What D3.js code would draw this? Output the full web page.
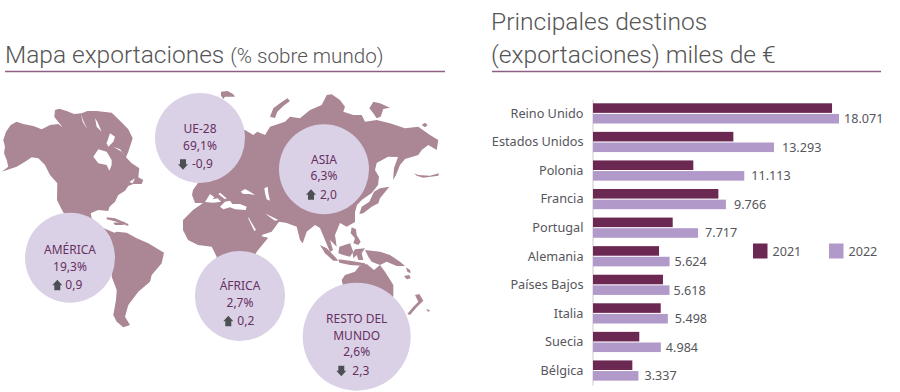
<!DOCTYPE html>
<html lang="es">
<head>
<meta charset="utf-8">
<title>Exportaciones</title>
<script src="https://d3js.org/d3.v7.min.js"></script>
<style>
  html, body { margin: 0; background: #fff; }
  svg { display: block; }
  .title { font-family: Roboto, sans-serif; font-weight: 300; fill: #555; }
  .soft { font-family: "Noto Sans", sans-serif; font-size: 12px; }
  .num { font-family: "Noto Sans", sans-serif; font-size: 12.6px; }
  .cat-axis .domain { stroke: #d4d4d4; stroke-width: 1.2; }
  .cat-axis text { font-family: "Noto Sans", sans-serif; font-size: 12.7px; fill: #56565c; }
</style>
</head>
<body>
<svg id="chart" width="900" height="392"></svg>
<script>
// bar chart data
const countries = ["Reino Unido", "Estados Unidos", "Polonia", "Francia", "Portugal", "Alemania", "Países Bajos", "Italia", "Suecia", "Bélgica"];
const exports2021 = [17560, 10310, 7370, 9210, 5855, 4850, 5140, 4975, 3400, 2890];
const exports2022 = [18071, 13293, 11113, 9766, 7717, 5624, 5618, 5498, 4984, 3337];
const years = ["2021", "2022"];

// map bubbles data
const regionNames = [["UE-28"], ["ASIA"], ["AMÉRICA"], ["ÁFRICA"], ["RESTO DEL", "MUNDO"]];
const regionShares = [69.1, 6.3, 19.3, 2.7, 2.6];
const regionChanges = [-0.9, 2.0, 0.9, 0.2, 2.3];
const regionArrows = ["down", "up", "up", "up", "down"];

const colorDark = "#6b2852";
const colorLight = "#b199c9";
const colorLand = "#ab8796";
const colorBubble = "#dbd1e7";
const colorBubbleText = "#66305f";
const colorArrow = "#4c4f53";

const locale = d3.formatLocale({ decimal: ",", thousands: ".", grouping: [3], currency: ["", "€"], minus: "-" });
const fmtValue = locale.format(",d");
const fmtOne = locale.format(".1f");

const svg = d3.select("#chart");

// ---- titles
const rule = "#8d5f84";
svg.append("text").attr("class", "title").attr("x", 5).attr("y", 63)
  .style("font-size", "24.5px").text("Mapa exportaciones ")
  .append("tspan").style("font-size", "20.6px").text("(% sobre mundo)");
svg.append("text").attr("class", "title").attr("x", 491).attr("y", 30)
  .style("font-size", "24.6px").text("Principales destinos");
svg.append("text").attr("class", "title").attr("x", 491).attr("y", 63)
  .style("font-size", "24.6px").text("(exportaciones) miles de €");
svg.append("line").attr("x1", 5).attr("x2", 445).attr("y1", 71.5).attr("y2", 71.5)
  .attr("stroke", rule).attr("stroke-width", 1.4);
svg.append("line").attr("x1", 492).attr("x2", 881).attr("y1", 71.5).attr("y2", 71.5)
  .attr("stroke", rule).attr("stroke-width", 1.4);

// ---- map: outlines, in px
const landPx = [
  // north america
  [1.7,171.7, 8.3,166.7, 6.7,160, 4,153.3, 5,146.7, 3.3,140, 6,131.7, 10.7,125, 16.7,121.7, 23.3,124, 33.3,126, 41.7,129.3, 50,125, 58.3,124, 62.7,127.3, 57.3,120.7, 54.3,116.7, 55,110, 59.3,108.7, 66.7,111, 74,114, 81.7,113.3, 87.3,111, 96.7,111, 111.7,112.7, 120,120.7, 128.3,129.3, 132.7,138.3, 128.3,151.7, 126,157.3, 131.7,163.3, 139.3,168.3, 138.3,177.3, 143.3,180, 141.7,184, 133.3,184, 128.3,186, 125,190.7, 118.3,195, 115,201.7, 109.3,207, 108.3,211, 98.3,210, 90.7,213.3, 91.7,218.3, 98.3,224, 103.3,228, 115,233, 110,236, 95,236, 75,226, 63,212, 57,200, 57.3,183.3, 50,175, 45,165, 38.3,158.3, 31.7,157.3, 25,161.7, 16.7,166.7],
  // cuba, hispaniola
  [106.7,217.3, 115,218.3, 128.3,224, 128.3,226, 116.7,221.7, 106.7,219.3],
  [113.3,222.7, 125,221.7, 123.3,225, 115,225],
  // south america
  [110,235, 116.7,231.7, 126.7,232.7, 136.7,238.3, 148.3,243.3, 164,252.7, 161.7,263.3, 151.7,275, 150,281.7, 138.3,291.7, 128.3,305, 125,316.7, 130,325, 123.3,327.3, 116.7,321.7, 113.3,315, 116,300, 116.7,290, 111.7,276.7, 113.3,260, 110,246.7],
  // eurasia and africa
  [235,130, 245,130, 253.3,135, 257.3,131.7, 265,135, 270,126.7, 285,121.7, 290,116.7, 300,118.3, 310,110, 321.7,105, 326.7,95, 331.7,94.3, 340,100, 345,106.7, 343.3,111.7, 353.3,115, 361.7,115, 365,121.7, 376.7,120, 390,123.3, 405,128.3, 418.3,126.7, 430,135, 438.3,140, 436.7,150, 428.3,145, 421.7,150, 418.3,155, 405,159, 400,165, 396,175, 393,180, 394,168, 398,157, 388,156.7, 376.7,163, 375,170, 379,176.7, 378,185, 371.7,193, 361.7,200, 357,205, 355,212, 355,222, 346.7,226.7, 340,223, 335,235, 336.7,246.7, 330,240, 333,250, 330,252, 325,240, 320,228, 315,225, 306.7,231.7, 302.7,243.3, 300,240, 296.7,226.7, 286.7,223, 279,221.7, 271.7,231.7, 261.7,235, 268,238, 256.7,251.7, 250,268, 215,262, 216.7,256.7, 211.7,246.7, 198,245, 188,240, 183,230, 183,220, 193,210, 203,203, 195,203, 192,195, 193,190, 200,180, 215,150]
];

const cropPieces = [
  [221, 91, [0,2, 20,0, 37,10, 42,17, 12,17, 7,24, 0,14]],                    // iceland
  [270, 98, [0,56, 10,31, 30,16, 52,1, 60,9, 40,24, 22,41, 15,60]],           // novaya zemlya
  [290, 85, [238,70, 250,50, 270,55, 300,68, 280,72, 272,95, 260,100, 250,85]],
  [290, 85, [395,120, 405,113, 413,120, 405,127]],
  [290, 85, [372,265, 385,270, 420,272, 447,265, 445,272, 400,278, 380,272]],  // aleutians
  [300, 190, [268,-10, 240,25, 235,40, 215,50, 190,70, 178,72, 185,50, 208,35, 222,5, 240,-5]], // japan
  [300, 190, [155,112, 168,118, 170,135, 182,155, 175,165, 160,160, 165,145, 152,130]],
  [300, 190, [118,170, 150,160, 160,185, 150,200, 130,195, 115,190]],
  [300, 190, [60,165, 80,175, 105,200, 115,212, 100,212, 75,190]],
  [300, 190, [115,208, 150,212, 195,220, 195,228, 150,225, 118,218]],
  [300, 190, [165,178, 195,175, 185,190, 190,210, 175,210, 170,195, 160,205, 158,190]],
  [300, 190, [195,180, 240,185, 270,195, 300,215, 315,228, 290,228, 260,215, 240,225, 215,215, 205,200]],
  [300, 190, [318,232, 330,240, 332,250, 322,245]],
  [300, 190, [312,258, 328,255, 332,265, 320,268]],
  [300, 190, [125,270, 135,255, 165,245, 178,228, 200,222, 222,240, 240,225, 255,245, 280,285, 280,320, 180,320, 130,290]], // australia
  [300, 190, [345,315, 358,312, 370,332, 350,352, 330,375, 322,372, 340,350, 355,335]], // new zealand
  [300, 190, [378,358, 390,360, 385,366]]
];

// inland water, painted over the land
const waterPieces = [
  [0, 100, [280,170, 295,148, 320,155, 335,180, 335,195, 328,212, 320,195, 295,190]], // hudson
  [0, 100, [243,42, 248,65, 262,88, 250,62]],
  [0, 100, [285,55, 290,80, 305,95, 292,65]],
  [0, 100, [320,130, 330,100, 345,110, 340,125, 325,140]],
  [0, 100, [340,140, 360,148, 378,172, 365,155]],
  [0, 100, [388,246, 405,235, 398,250]],
  [175, 180, [90,66, 105,42, 118,52, 112,58, 128,55, 138,65, 115,68]],
  [175, 180, [135,80, 150,65, 165,62, 172,72, 195,72, 215,80, 212,90, 180,88, 165,82, 145,88]],
  [175, 180, [135,38, 155,55, 150,58, 130,42]],
  [175, 180, [197,35, 210,27, 225,35, 240,45, 222,42, 205,42]],
  [175, 180, [268,25, 278,20, 280,40, 285,62, 275,58, 270,40]],
  [175, 180, [218,112, 222,115, 243,150, 238,153]],
  [175, 180, [270,100, 280,105, 310,120, 300,122, 285,112]],
  [175, 180, [258,168, 285,160, 295,165, 270,172]]
];

function pairs(flat) {
  const out = [];
  for (let i = 0; i < flat.length; i += 2) out.push([flat[i], flat[i + 1]]);
  return out;
}
function fromCrop(piece) {
  return pairs(piece[2]).map(p => [piece[0] + p[0] / 3, piece[1] + p[1] / 3]);
}

const outline = d3.line().curve(d3.curveLinearClosed);
const soften = svg.append("defs").append("filter").attr("id", "soft");
soften.append("feGaussianBlur").attr("stdDeviation", 0.4);

const mapG = svg.append("g").attr("filter", "url(#soft)");
mapG.selectAll("path.land")
  .data(landPx.map(pairs).concat(cropPieces.map(fromCrop)))
  .enter().append("path").attr("class", "land")
  .attr("d", outline).attr("fill", colorLand);
mapG.selectAll("path.water")
  .data(waterPieces.map(fromCrop))
  .enter().append("path").attr("class", "water")
  .attr("d", outline).attr("fill", "#fff");

// ---- bubbles
const bubbleLayout = [
  { cx: 200, cy: 138, r: 45, top: 133, arrowDx: -17, gap: 9 },
  { cx: 324, cy: 169.3, r: 45, top: 163.5, arrowDx: -13, gap: 9 },
  { cx: 70, cy: 257.7, r: 45, top: 254, arrowDx: -12.7, gap: 8 },
  { cx: 240, cy: 296, r: 45, top: 290, arrowDx: -11.7, gap: 9 },
  { cx: 356.7, cy: 336.7, r: 54, top: 322.7, arrowDx: -15.4, gap: 11 }
];
const arrowShape = [[0, -5.5], [5, 0], [3, 0], [3, 5], [-3, 5], [-3, 0], [-5, 0]];

regionNames.forEach((lines, i) => {
  const b = bubbleLayout[i];
  const g = svg.append("g");
  g.append("circle").attr("cx", b.cx).attr("cy", b.cy).attr("r", b.r).attr("fill", colorBubble);

  const rows = lines.concat([fmtOne(regionShares[i]) + "%"]);
  rows.forEach((t, k) => {
    g.append("text").attr("class", "soft")
      .attr("x", b.cx).attr("y", b.top + k * 16.8)
      .attr("text-anchor", "middle").attr("fill", colorBubbleText)
      .text(t);
  });

  const arrowY = b.top + rows.length * 16.8 + 1.6;
  const ax = b.cx + b.arrowDx;
  g.append("path")
    .attr("d", outline(arrowShape))
    .attr("transform", `translate(${ax},${arrowY - 4}) rotate(${regionArrows[i] === "up" ? 0 : 180})`)
    .attr("fill", colorArrow);
  g.append("text").attr("class", "soft")
    .attr("x", ax + b.gap).attr("y", arrowY)
    .attr("fill", colorBubbleText)
    .text(fmtOne(regionChanges[i]));
});

// ---- bars
const x = d3.scaleLinear().domain([0, 18071]).range([593, 839]);
const y = d3.scaleBand().domain(countries).range([99.3, 385]);
const ySub = d3.scaleBand().domain(years).range([4, 24.2]).paddingInner(0.1);

const axis = svg.append("g").attr("class", "cat-axis")
  .attr("transform", "translate(592.5,0)")
  .call(d3.axisLeft(y).tickSize(0).tickPadding(9).tickSizeOuter(0));
axis.selectAll(".tick line").remove();

const series = [
  { year: "2021", values: exports2021, color: colorDark },
  { year: "2022", values: exports2022, color: colorLight }
];
series.forEach(s => {
  svg.append("g").selectAll("rect")
    .data(s.values)
    .enter().append("rect")
    .attr("x", x(0))
    .attr("y", (d, i) => y(countries[i]) + ySub(s.year))
    .attr("width", d => x(d) - x(0))
    .attr("height", ySub.bandwidth())
    .attr("fill", s.color);
});

// value labels sit at uneven distances in the original
const labelGap = [5, 8, 7, 8, 7, 5, 4, 7, 5, 6];
svg.append("g").selectAll("text")
  .data(exports2022)
  .enter().append("text").attr("class", "num")
  .attr("x", (d, i) => x(d) + labelGap[i])
  .attr("y", (d, i) => y(countries[i]) + ySub("2022") + ySub.bandwidth() / 2 + 4.5)
  .attr("fill", "#56565c")
  .text(d => fmtValue(d));

// ---- legend
const legendX = d3.scaleOrdinal().domain(years).range([753, 829]);
series.forEach(s => {
  svg.append("rect").attr("x", legendX(s.year)).attr("y", 243.5)
    .attr("width", 14.5).attr("height", 15).attr("fill", s.color);
  svg.append("text").attr("class", "num")
    .attr("x", legendX(s.year) + 19.5).attr("y", 255.7)
    .attr("fill", "#56565c").text(s.year);
});
</script>
</body>
</html>
